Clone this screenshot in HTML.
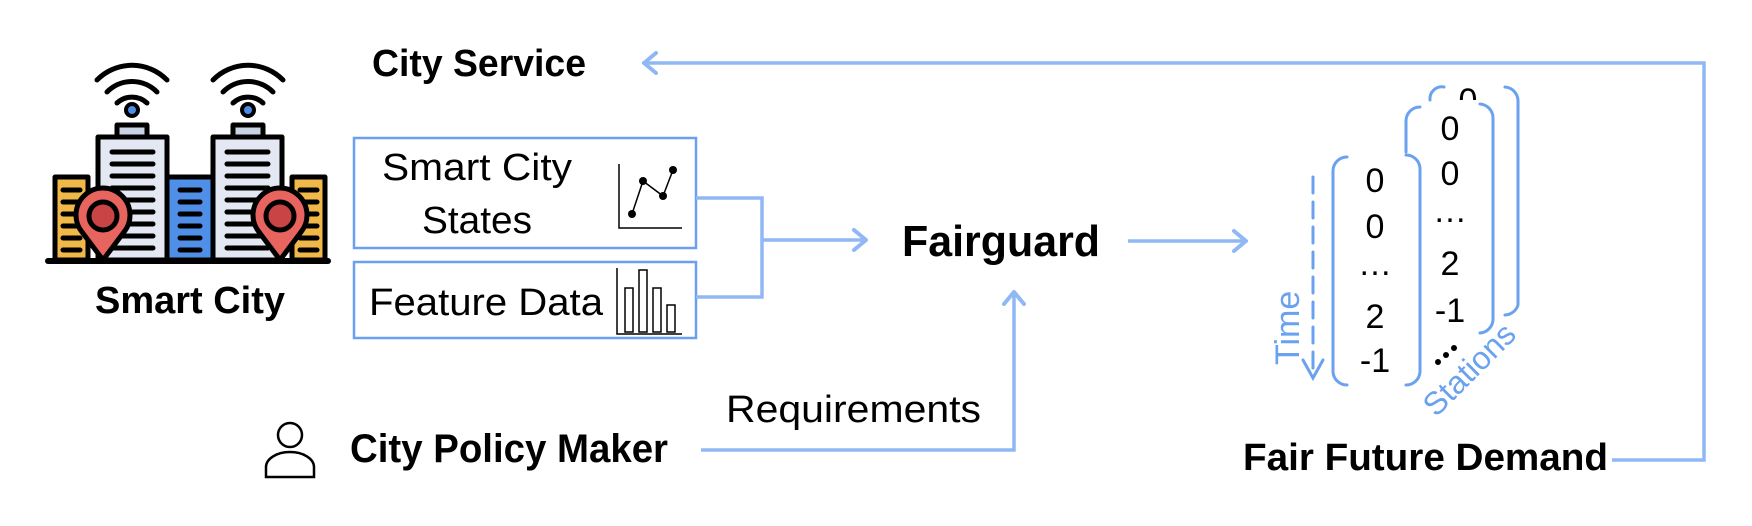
<!DOCTYPE html>
<html><head><meta charset="utf-8"><style>
html,body{margin:0;padding:0;background:#fff;}
svg{display:block;}
text{font-family:"Liberation Sans",sans-serif;}
</style></head><body>
<svg width="1752" height="526" viewBox="0 0 1752 526" xmlns="http://www.w3.org/2000/svg">
<defs>
<marker id="ah" markerWidth="16" markerHeight="24" refX="14" refY="12" orient="auto" markerUnits="userSpaceOnUse">
<path d="M2,2 L14,12 L2,22" fill="none" stroke="#8fb8f5" stroke-width="4" stroke-linecap="round"/>
</marker>
</defs>
<!-- City icon -->
<g stroke="#000" stroke-width="5" stroke-linecap="round" stroke-linejoin="round" fill="none">
 <path d="M97,80 A49,49 0 0 1 167,80"/><path d="M107,92 A35,35 0 0 1 157,92"/><path d="M117,103 A22,22 0 0 1 147,103"/>
 <path d="M213,80 A49,49 0 0 1 283,80"/><path d="M223,92 A35,35 0 0 1 273,92"/><path d="M233,103 A22,22 0 0 1 263,103"/>
</g>
<circle cx="132" cy="110" r="6" fill="#4a8ee8" stroke="#000" stroke-width="4"/>
<circle cx="248" cy="110" r="6" fill="#4a8ee8" stroke="#000" stroke-width="4"/>
<g stroke="#000" stroke-width="5" stroke-linejoin="round">
 <rect x="117" y="125" width="30" height="14" fill="#c9d3e3"/>
 <rect x="233" y="125" width="30" height="14" fill="#c9d3e3"/>
 <rect x="55" y="177" width="33" height="83" fill="#f0b848"/>
 <rect x="292" y="177" width="33" height="83" fill="#f0b848"/>
 <rect x="98" y="137" width="69" height="123" fill="#e3e8f2"/>
 <rect x="213" y="137" width="69" height="123" fill="#e3e8f2"/>
 <rect x="167" y="177" width="46" height="83" fill="#4f8fe8"/>
</g>
<g stroke="#000" stroke-width="5" stroke-linecap="round">
 <path d="M112,152H153M112,164H153M112,176H153M112,188H153M112,200H153M112,212H153M112,224H153M112,236H153M112,248H153"/>
 <path d="M227,152H268M227,164H268M227,176H268M227,188H268M227,200H268M227,212H268M227,224H268M227,236H268M227,248H268"/>
 <path d="M180,190H200M180,202H200M180,214H200M180,226H200M180,238H200M180,250H200"/>
 <path d="M63,190H80M63,202H80M63,214H80M63,226H80M63,238H80M63,250H80"/>
 <path d="M300,190H317M300,202H317M300,214H317M300,226H317M300,238H317M300,250H317"/>
 <path d="M48,261H328" stroke-width="6"/>
</g>
<g stroke="#000" stroke-width="5" stroke-linejoin="round">
 <path d="M103,260 L82,232 A27,27 0 1 1 124,232 Z" fill="#e8645f"/>
 <circle cx="103" cy="216" r="14" fill="#c94444"/>
 <path d="M280,260 L259,232 A27,27 0 1 1 301,232 Z" fill="#e8645f"/>
 <circle cx="280" cy="216" r="14" fill="#c94444"/>
</g>
<text x="190" y="313" font-size="38" font-weight="bold" text-anchor="middle" textLength="190" lengthAdjust="spacingAndGlyphs">Smart City</text>
<text x="372" y="76" font-size="38" font-weight="bold" textLength="214" lengthAdjust="spacingAndGlyphs">City Service</text>

<!-- Boxes -->
<rect x="354" y="138" width="342" height="110" fill="none" stroke="#6b9ff0" stroke-width="2.5"/>
<rect x="354" y="262" width="342" height="76" fill="none" stroke="#6b9ff0" stroke-width="2.5"/>
<text x="477" y="180" font-size="38" text-anchor="middle" textLength="190" lengthAdjust="spacingAndGlyphs">Smart City</text>
<text x="477" y="233" font-size="38" text-anchor="middle" textLength="110" lengthAdjust="spacingAndGlyphs">States</text>
<path d="M619,164V228H682" fill="none" stroke="#000" stroke-width="1.5"/>
<polyline points="632,214 643,181 663,196 673,170" fill="none" stroke="#000" stroke-width="1.5"/>
<g fill="#000"><circle cx="632" cy="214" r="4"/><circle cx="643" cy="181" r="4"/><circle cx="663" cy="196" r="4"/><circle cx="673" cy="170" r="4"/></g>
<text x="369" y="315" font-size="38" textLength="234" lengthAdjust="spacingAndGlyphs">Feature Data</text>
<g fill="none" stroke="#000" stroke-width="1.5">
 <path d="M617,268V334H682"/>
 <rect x="625" y="288" width="8" height="44"/><rect x="639" y="270" width="8" height="62"/><rect x="653" y="288" width="8" height="44"/><rect x="667" y="305" width="8" height="27"/>
</g>

<!-- connectors -->
<g fill="none" stroke="#8fb8f5" stroke-width="3.5">
 <path d="M696,198H762V297H696"/>
 <path d="M762,240H866" marker-end="url(#ah)"/>
 <path d="M1128,241H1246" marker-end="url(#ah)"/>
 <path d="M701,450H1014V292" marker-end="url(#ah)"/>
 <path d="M1612,460H1704V63H644" marker-end="url(#ah)"/>
</g>
<text x="902" y="256" font-size="44" font-weight="bold" textLength="198" lengthAdjust="spacingAndGlyphs">Fairguard</text>
<text x="726" y="422" font-size="38" textLength="255" lengthAdjust="spacingAndGlyphs">Requirements</text>
<circle cx="290" cy="435" r="12" fill="none" stroke="#000" stroke-width="2.5"/>
<path d="M266,477V467A24,15 0 0 1 314,467V477Z" fill="none" stroke="#000" stroke-width="2.5"/>
<text x="350" y="462" font-size="40" font-weight="bold" textLength="318" lengthAdjust="spacingAndGlyphs">City Policy Maker</text>
<text x="1243" y="470" font-size="38" font-weight="bold" textLength="365" lengthAdjust="spacingAndGlyphs">Fair Future Demand</text>

<!-- matrices -->
<g font-size="34" fill="#000" text-anchor="middle">
 <text x="1468" y="112">0</text>
</g>
<rect x="1450" y="100" width="36" height="14" fill="#fff"/>
<g fill="none" stroke="#6aa2f0" stroke-width="3" stroke-linecap="round">
 <path d="M1430,100 A12,12 0 0 1 1444,87"/>
 <path d="M1505,87 A14,14 0 0 1 1518,101 V305 A14,14 0 0 1 1505,315"/>
 <path d="M1420,107 A14,14 0 0 0 1406,121 V152"/>
 <path d="M1480,104 A14,14 0 0 1 1493,118 V320 A14,14 0 0 1 1480,333"/>
 <path d="M1347,157 A14,14 0 0 0 1333,171 V372 A14,14 0 0 0 1347,385"/>
 <path d="M1406,155 A14,14 0 0 1 1420,169 V372 A14,14 0 0 1 1406,385"/>
 <path d="M1313,177V372" stroke-dasharray="16,9"/>
 <path d="M1303,360 L1313,378 L1323,360"/>
</g>
<g font-size="34" fill="#000" text-anchor="middle">
 <text x="1450" y="140">0</text><text x="1450" y="185">0</text><text x="1450" y="222">…</text><text x="1450" y="275">2</text><text x="1450" y="322">-1</text>
 <text x="1375" y="192">0</text><text x="1375" y="238">0</text><text x="1375" y="275">…</text><text x="1375" y="328">2</text><text x="1375" y="372">-1</text>
</g>
<g fill="#000"><circle cx="1438" cy="362" r="3"/><circle cx="1446" cy="355" r="3"/><circle cx="1454" cy="348" r="3"/></g>
<text transform="translate(1299,365) rotate(-90)" font-size="34" fill="#6aa2f0">Time</text>
<text transform="translate(1436,418) rotate(-45)" font-size="32" fill="#6aa2f0">Stations</text>
</svg>
</body></html>
